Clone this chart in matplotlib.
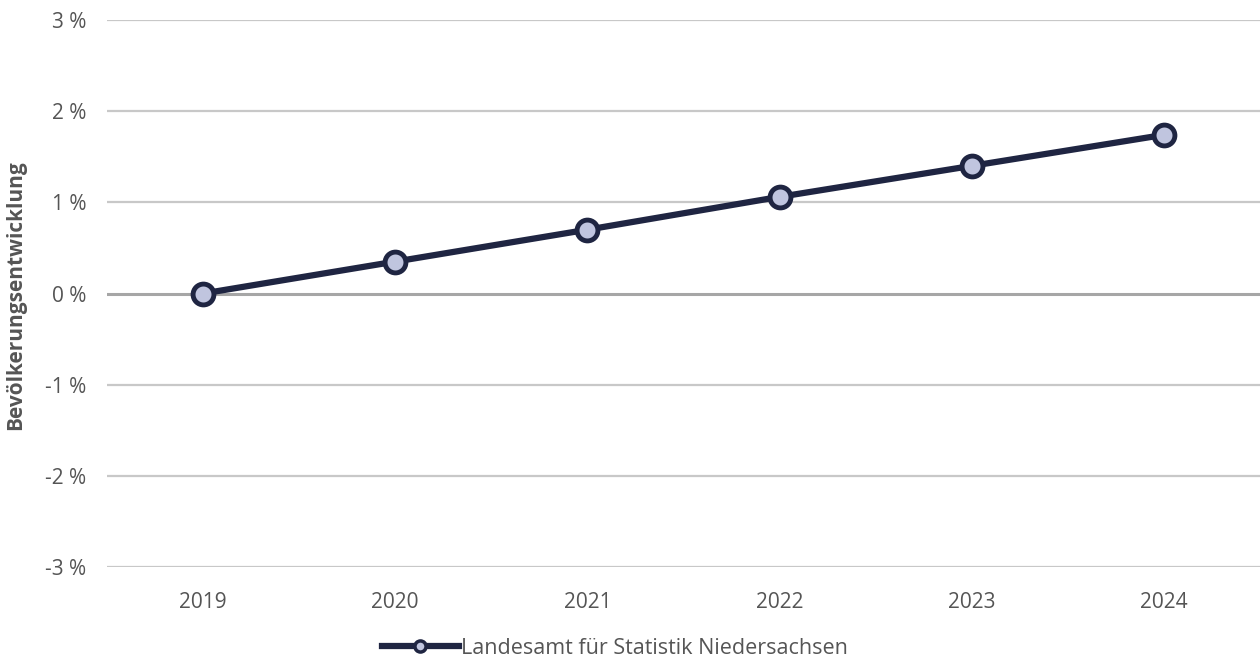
import numpy as np
import matplotlib.pyplot as plt
from matplotlib.lines import Line2D

# Bevölkerungsentwicklung relativ zu 2019, in Prozent
years = ["2019", "2020", "2021", "2022", "2023", "2024"]
growth = [0.0, 0.35, 0.70, 1.06, 1.40, 1.74]
yticks = [-3, -2, -1, 0, 1, 2, 3]

LINE = "#1f2542"
FILL = "#c0c5df"
GRID = "#c8c8c8"
TEXT = "#555555"

plt.rcParams['font.family'] = ['Open Sans', 'DejaVu Sans']

fig = plt.figure(figsize=(12.6, 6.59), dpi=100)
ax = fig.add_axes([107 / 1260, 92 / 659, 1 - 107 / 1260, (567 - 20) / 659])

x = np.arange(len(years))
ax.set_xlim(-0.5, len(years) - 0.5)
ax.set_ylim(-3, 3)

for t in yticks:
    if t == 0:
        ax.axhline(t, color="#a6a6a6", lw=2.2, zorder=1)
    else:
        ax.axhline(t, color=GRID, lw=1.6, zorder=1)

ax.plot(x, growth, color=LINE, lw=4.5, marker="o", ms=15,
        markerfacecolor=FILL, markeredgecolor=LINE, markeredgewidth=3.5,
        zorder=3, clip_on=False)

ax.set_xticks(x)
ax.set_xticklabels(years)
ax.set_yticks(yticks)
ax.set_yticklabels([f"{t} %" for t in yticks])
ax.tick_params(length=0, labelsize=15, colors=TEXT, pad=15)
ax.tick_params(axis="x", pad=18)
for s in ax.spines.values():
    s.set_visible(False)

fig.text(16 / 1260, (659 - 295) / 659, "Bevölkerungsentwicklung", rotation=90,
         ha="center", va="center", fontsize=15, fontweight="bold", color=TEXT)

handle = Line2D([], [], color=LINE, lw=4.5, marker="o", ms=8,
                markerfacecolor=FILL, markeredgecolor=LINE, markeredgewidth=2.5)
fig.legend([handle], ["Landesamt für Statistik Niedersachsen"],
           loc="center", bbox_to_anchor=(0.488, 1 - 648 / 659), frameon=False,
           fontsize=15.5, labelcolor=TEXT, handlelength=3.6, handletextpad=0.1)

fig.savefig("out.png", dpi=100)
